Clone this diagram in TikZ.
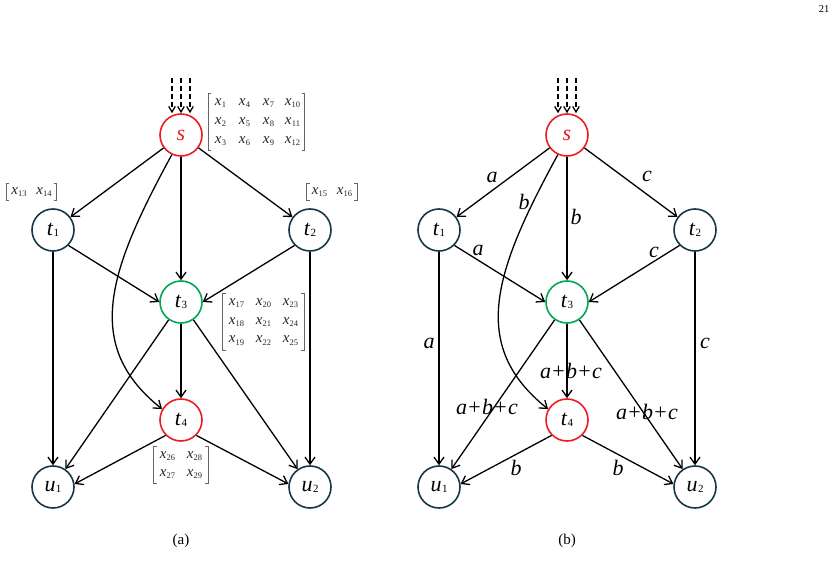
\documentclass[tikz,border=0pt]{standalone}
\usepackage{fontspec}
\setmainfont{Liberation Serif}
\usetikzlibrary{arrows.meta,matrix}
\definecolor{nred}{RGB}{237,28,36}
\definecolor{ngreen}{RGB}{0,166,81}
\definecolor{ndark}{RGB}{22,55,72}
\newcommand{\xv}[1]{{\fontsize{15}{15}\selectfont\itshape x}\kern0.3pt\raisebox{-2.5pt}{\fontsize{8.5}{8.5}\selectfont #1}}
\newcommand{\nl}[2]{{\itshape #1}\kern0.5pt\raisebox{-1pt}{\fontsize{11}{11}\selectfont #2}}
\newcommand{\abc}{a\kern1.3pt{\upshape+}\kern1.3pt b\kern1.3pt{\upshape+}\kern1.3pt c}
\newcommand{\drawbrackets}[1]{%
  \draw[brk] ([xshift=3pt]#1.north west) -- (#1.north west) -- (#1.south west) -- ([xshift=3pt]#1.south west);
  \draw[brk] ([xshift=-3pt]#1.north east) -- (#1.north east) -- (#1.south east) -- ([xshift=-3pt]#1.south east);}
\tikzset{
  vert/.style={circle, draw=ndark, line width=1.6pt, minimum size=42pt, inner sep=0pt,
    font=\fontsize{22}{22}\selectfont, text=black, fill=white},
  redv/.style={vert, draw=nred},
  greenv/.style={vert, draw=ngreen},
  arr/.style={-{Straight Barb[length=7pt,width=10pt,line width=1.3pt]}, line width=1.3pt, black},
  darr/.style={-{Straight Barb[length=5.5pt,width=6.5pt,line width=1.3pt]}, line width=1.3pt, black, dash pattern=on 5pt off 3pt},
  elab/.style={font=\fontsize{22}{22}\selectfont\itshape, inner sep=0pt, text=black},
  brk/.style={gray!80!black, line width=0.8pt},
  mat/.style={matrix of nodes, inner sep=0pt, nodes={inner sep=0pt, anchor=center, text=black!85}},
  capt/.style={font=\fontsize{15}{15}\selectfont, inner sep=0pt}
}
\begin{document}
\begin{tikzpicture}[x=1pt,y=-1pt]
\useasboundingbox (0,0) rectangle (839,583);
\node[font=\fontsize{10.5}{10.5}\selectfont, inner sep=0pt] (pg) at (824,9) {21};

% ---------------- (a) ----------------
\node[redv, text=nred] (s) at (181,135) {\itshape s};
\node[vert] (t1) at (53,230) {\nl{t}{1}};
\node[vert] (t2) at (310,230) {\nl{t}{2}};
\node[greenv] (t3) at (181,302) {\nl{t}{3}};
\node[redv] (t4) at (181,420) {\nl{t}{4}};
\node[vert] (u1) at (53,487) {\nl{u}{1}};
\node[vert] (u2) at (310,487) {\nl{u}{2}};

\coordinate (da1) at (172,78);
\coordinate (da2) at (181,78);
\coordinate (da3) at (190,78);
\draw[darr] (da1) -- (da1 |- s.north);
\draw[darr] (da2) -- (s.north);
\draw[darr] (da3) -- (da3 |- s.north);

\draw[arr] (s) -- (t1);
\draw[arr] (s) -- (t2);
\draw[arr] (s) -- (t3);
\draw[arr] (s.245) .. controls (109,270) and (82,345) .. (t4.150);
\draw[arr] (t1.-45) -- (t3.west);
\draw[arr] (t2.-135) -- (t3.east);
\draw[arr] (t3) -- (t4);
\draw[arr] (t3) -- (u1);
\draw[arr] (t3) -- (u2);
\draw[arr] (t1) -- (u1);
\draw[arr] (t2) -- (u2);
\draw[arr] (t4.225) -- (u1.8);
\draw[arr] (t4.-45) -- (u2.172);

\matrix (mA) [mat, nodes={minimum width=24pt, minimum height=19pt}] at (256.5,122) {
  \xv{1} & \xv{4} & \xv{7} & \xv{10} \\
  \xv{2} & \xv{5} & \xv{8} & \xv{11} \\
  \xv{3} & \xv{6} & \xv{9} & \xv{12} \\
};
\drawbrackets{mA}
\matrix (mB) [mat, nodes={minimum width=25pt, minimum height=16pt}] at (31.5,192) {
  \xv{13} & \xv{14} \\
};
\drawbrackets{mB}
\matrix (mC) [mat, nodes={minimum width=25pt, minimum height=16pt}] at (332,192) {
  \xv{15} & \xv{16} \\
};
\drawbrackets{mC}
\matrix (mD) [mat, nodes={minimum width=27pt, minimum height=18.7pt}] at (263.5,322) {
  \xv{17} & \xv{20} & \xv{23} \\
  \xv{18} & \xv{21} & \xv{24} \\
  \xv{19} & \xv{22} & \xv{25} \\
};
\drawbrackets{mD}
\matrix (mE) [mat, nodes={minimum width=27pt, minimum height=18pt}] at (181,465) {
  \xv{26} & \xv{28} \\
  \xv{27} & \xv{29} \\
};
\drawbrackets{mE}

\node[capt] (ca) at (181,541) {(a)};

% ---------------- (b) ----------------
\node[redv, text=nred] (sB) at (567,135) {\itshape s};
\node[vert] (t1B) at (439,230) {\nl{t}{1}};
\node[vert] (t2B) at (695,230) {\nl{t}{2}};
\node[greenv] (t3B) at (567,302) {\nl{t}{3}};
\node[redv] (t4B) at (567,420) {\nl{t}{4}};
\node[vert] (u1B) at (439,487) {\nl{u}{1}};
\node[vert] (u2B) at (695,487) {\nl{u}{2}};

\coordinate (db1) at (558,78);
\coordinate (db2) at (567,78);
\coordinate (db3) at (576,78);
\draw[darr] (db1) -- (db1 |- sB.north);
\draw[darr] (db2) -- (sB.north);
\draw[darr] (db3) -- (db3 |- sB.north);

\draw[arr] (sB) -- (t1B);
\draw[arr] (sB) -- (t2B);
\draw[arr] (sB) -- (t3B);
\draw[arr] (sB.245) .. controls (495,270) and (468,345) .. (t4B.150);
\draw[arr] (t1B.-45) -- (t3B.west);
\draw[arr] (t2B.-135) -- (t3B.east);
\draw[arr] (t3B) -- (t4B);
\draw[arr] (t3B) -- (u1B);
\draw[arr] (t3B) -- (u2B);
\draw[arr] (t1B) -- (u1B);
\draw[arr] (t2B) -- (u2B);
\draw[arr] (t4B.225) -- (u1B.8);
\draw[arr] (t4B.-45) -- (u2B.172);

\node[elab] (la1) at (492,177) {a};
\node[elab] (lb1) at (524,202) {b};
\node[elab] (lb2) at (576,217) {b};
\node[elab] (lc1) at (647,176) {c};
\node[elab] (la2) at (478,250) {a};
\node[elab] (lc2) at (654,252) {c};
\node[elab] (la3) at (429,343) {a};
\node[elab] (lc3) at (705,343) {c};
\node[elab] (ls1) at (571,371) {\abc};
\node[elab] (ls2) at (487,407) {\abc};
\node[elab] (ls3) at (647,412) {\abc};
\node[elab] (lb3) at (516,468) {b};
\node[elab] (lb4) at (618,468) {b};

\node[capt] (cb) at (567,541) {(b)};
\end{tikzpicture}
\end{document}
